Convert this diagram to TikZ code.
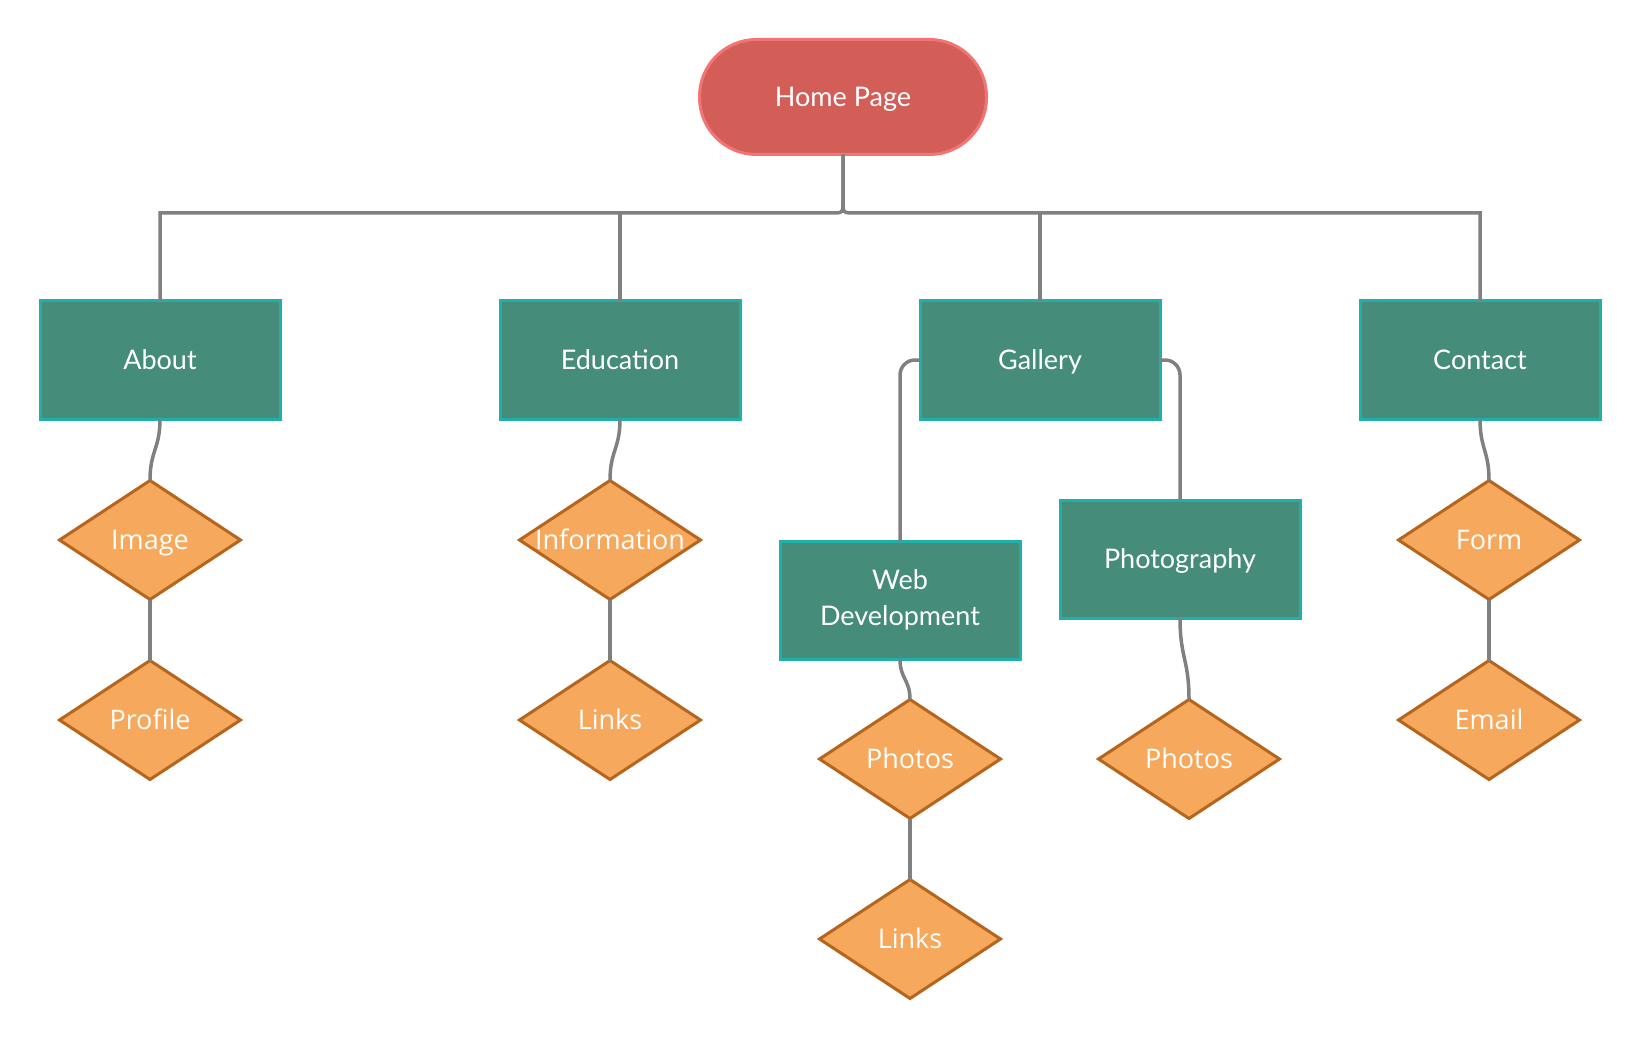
\documentclass[tikz,border=0pt]{standalone}
\usepackage{fontspec}
\setmainfont{Lato}
\newfontfamily\diafont{Open Sans}
\usetikzlibrary{shapes.geometric,calc}
\definecolor{homefill}{HTML}{D35E58}
\definecolor{homeline}{HTML}{F27474}
\definecolor{boxfill}{HTML}{458C7A}
\definecolor{boxline}{HTML}{1FB0AC}
\definecolor{diafill}{HTML}{F6A85C}
\definecolor{dialine}{HTML}{B5651D}
\definecolor{edgecol}{HTML}{808080}
\tikzset{
  homebox/.style={rectangle, rounded corners=57pt, draw=homeline, fill=homefill, line width=3pt,
    minimum width=287pt, minimum height=115pt, inner sep=0pt, outer sep=0pt,
    text=white, font=\fontsize{27}{34}\selectfont, text height=19.4pt, text depth=0pt},
  pagebox/.style={rectangle, draw=boxline, fill=boxfill, line width=3pt,
    minimum width=240pt, minimum height=118pt, inner sep=0pt, outer sep=0pt,
    text=white, align=center, font=\fontsize{27}{36}\selectfont},
  oneline/.style={text height=19.4pt, text depth=0pt},
  itemdia/.style={diamond, draw=dialine, fill=diafill, line width=3pt,
    minimum width=181pt, minimum height=119pt, inner sep=0pt, outer sep=0pt,
    label={[text=white, inner sep=0pt, text height=19.3pt, text depth=0pt,
      font=\diafont\fontsize{27}{32}\selectfont]center:#1}},
  edge/.style={draw=edgecol, line width=3.5pt},
}
\begin{document}
\begin{tikzpicture}[x=1pt, y=-1pt]
\useasboundingbox[fill=white] (0,0) rectangle (1640,1040);
\node[homebox] (home) at (843,97) {Home Page};
\coordinate (bus) at (0,213);

\node[pagebox, oneline] (about) at (160,360) {About};
\node[pagebox, oneline] (edu) at (620,360) {Education};
\node[pagebox, oneline] (gallery) at (1040,360) {Gallery};
\node[pagebox, oneline] (contact) at (1480,360) {Contact};
\node[pagebox] (web) at (900,600) {Web\\Development};
\node[pagebox, oneline] (photo) at (1180,559) {Photography};

\node[itemdia={Image}] (image) at (150,540) {};
\node[itemdia={Profile}] (profile) at (150,720) {};
\node[itemdia={Information}] (info) at (610,540) {};
\node[itemdia={Links}] (links1) at (610,720) {};
\node[itemdia={Photos}] (photos1) at (910,759) {};
\node[itemdia={Links}] (links2) at (910,939) {};
\node[itemdia={Photos}] (photos2) at (1189,759) {};
\node[itemdia={Form}] (form) at (1489,540) {};
\node[itemdia={Email}] (email) at (1489,720) {};

\coordinate (junction) at (home.south |- bus);
\coordinate (jup) at ($(junction)+(0,-12)$);
\draw[edge] (about.north) |- ($(junction)+(-12,0)$) .. controls (junction) .. (jup) -- (home.south);
\draw[edge] (contact.north) |- ($(junction)+(12,0)$) .. controls (junction) .. (jup) -- (home.south);
\draw[edge] (edu.north) -- (edu.north |- bus);
\draw[edge] (gallery.north) -- (gallery.north |- bus);

\draw[edge, rounded corners=15pt] (gallery.west) -| (web.north);
\draw[edge, rounded corners=15pt] (gallery.east) -| (photo.north);

\draw[edge] (about.south) .. controls +(0,30) and +(0,-30) .. (image.north);
\draw[edge] (edu.south) .. controls +(0,30) and +(0,-30) .. (info.north);
\draw[edge] (contact.south) .. controls +(0,30) and +(0,-30) .. (form.north);
\draw[edge] (web.south) .. controls +(0,20) and +(0,-20) .. (photos1.north);
\draw[edge] (photo.south) .. controls +(0,40) and +(0,-40) .. (photos2.north);

\draw[edge] (image.south) -- (profile.north);
\draw[edge] (info.south) -- (links1.north);
\draw[edge] (photos1.south) -- (links2.north);
\draw[edge] (form.south) -- (email.north);
\end{tikzpicture}
\end{document}
